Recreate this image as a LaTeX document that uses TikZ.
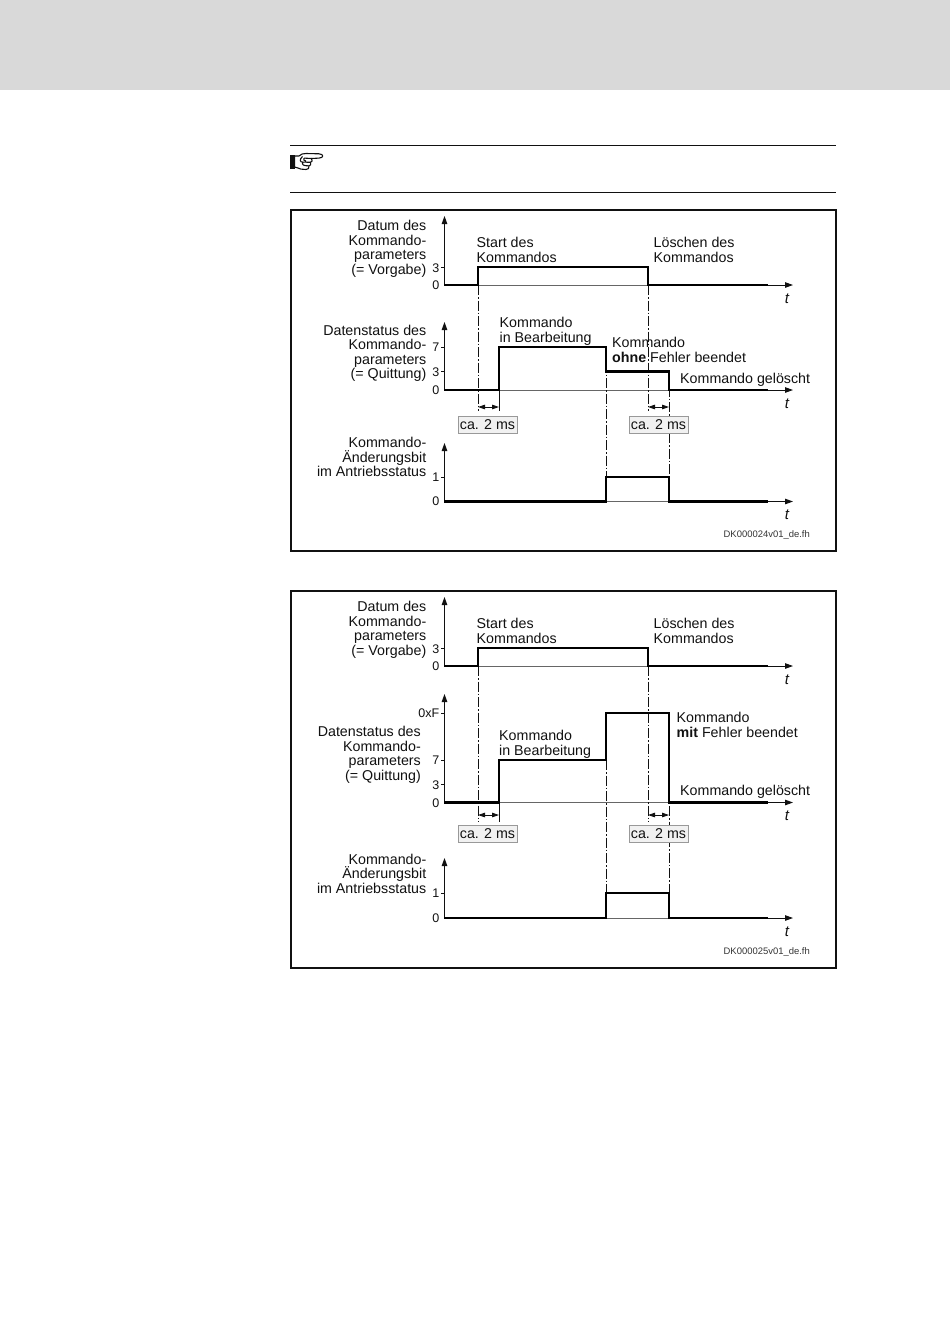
\documentclass[tikz,border=0pt]{standalone}
\usepackage{fontspec}
\setmainfont{Liberation Sans}
\usetikzlibrary{arrows.meta}
\definecolor{band}{HTML}{D9D9D9}
\definecolor{ink}{HTML}{111111}
\definecolor{boxfill}{HTML}{F1F1F1}
\definecolor{boxline}{HTML}{999999}
\tikzset{
  axisline/.style={line width=0.9pt,draw=ink,-{Triangle[length=8pt,width=5.5pt]}},
  baseline/.style={line width=0.9pt,draw=black!60},
  tickline/.style={line width=0.8pt,draw=ink},
  signal/.style={line width=2.7pt,draw=black,miter limit=4},
  guide/.style={line width=0.8pt,draw=ink,dash pattern=on 10pt off 2pt on 1.5pt off 2pt},
  dimline/.style={line width=0.8pt,draw=ink,{Triangle[length=7pt,width=4.5pt]}-{Triangle[length=7pt,width=4.5pt]}},
  extline/.style={line width=0.8pt,draw=ink},
  frameline/.style={line width=2pt,draw=ink},
  ruleline/.style={line width=1pt,draw=ink},
  lab/.style={inner sep=0pt,text=ink,font=\fontsize{14.25}{14.6}\selectfont,align=left},
  rlab/.style={inner sep=0pt,text=ink,font=\fontsize{14.25}{14.6}\selectfont,align=right},
  tick/.style={inner sep=0pt,text=ink,font=\fontsize{12.5}{13}\selectfont},
  tlab/.style={inner sep=0pt,text=ink,font=\fontsize{15}{15}\selectfont\itshape},
  msbox/.style={draw=boxline,fill=boxfill,line width=0.8pt,text=ink,inner sep=0pt,minimum width=59pt,minimum height=17pt,font=\fontsize{14.25}{14}\selectfont},
  tag/.style={inner sep=0pt,text=ink!85,font=\fontsize{9.45}{10}\selectfont},
}
\begin{document}
\begin{tikzpicture}[x=1pt,y=-1pt]
\useasboundingbox (0,0) rectangle (950,1344);
\fill[white] (0,0) rectangle (950,1344);
\fill[band] (0,0) rectangle (950,90);
% rules
\draw[ruleline] (290,145.5) -- (836,145.5);
\draw[ruleline] (290,192) -- (836,192);
% pointing hand
\begin{scope}[shift={(290,153.5)}]
\fill[ink] (0,1) -- (4.5,1) -- (4.5,15) -- (0,15) -- cycle;
\draw[line width=1.1pt,draw=ink,fill=white,line join=round]
  (4.5,2.5) -- (9,2.5) .. controls (11,0.5) and (13,0) .. (16,0)
  -- (29,0.3) .. controls (34,0.6) and (34,4.4) .. (29,4.6) -- (21.5,5)
  .. controls (23,7) and (22,8.6) .. (20.5,8.8)
  .. controls (21.5,10.6) and (20.5,12.2) .. (19,12.4)
  .. controls (19.5,14.6) and (18,16.2) .. (16,16)
  -- (11,15.6) .. controls (9,15) and (7,14) .. (4.5,13.5) -- cycle;
\draw[line width=1.1pt,draw=ink] (21.5,5) -- (14,4.6) (12.5,3) .. controls (9,6) and (10,9) .. (13,8.6)
  -- (20.5,8.8) (13,8.6) .. controls (11.5,11) and (13,12.4) .. (19,12.4)
  (14,4.6) .. controls (13,6) and (14,7.5) .. (16,7.5);
\end{scope}

% ===== panel 1 =====
\draw[frameline] (291,210) rectangle (836,551);
\node[rlab,anchor=north east] (p1l1) at (426.5,220) {Datum des\\Kommando-\\parameters\\(= Vorgabe)};
\node[rlab,anchor=north east] (p1l2) at (426.5,324.5) {Datenstatus des\\Kommando-\\parameters\\(= Quittung)};
\node[rlab,anchor=north east] (p1l3) at (426.5,437) {Kommando-\\Änderungsbit\\im Antriebsstatus};
\node[lab,anchor=north west] (p1a) at (476.5,237) {Start des\\Kommandos};
\node[lab,anchor=north west] (p1b) at (653.5,237) {Löschen des\\Kommandos};
\node[lab,anchor=north west] (p1c) at (499.5,317) {Kommando\\in Bearbeitung};
\node[lab,anchor=north west] (p1d) at (612,337) {Kommando\\\textbf{ohne} Fehler beendet};
\node[lab,anchor=north west] (p1e) at (680,373) {Kommando gelöscht};
% axes
\draw[axisline] (444.5,285) -- (444.5,216);
\draw[axisline] (444.5,390) -- (444.5,322);
\draw[axisline] (444.5,501.5) -- (444.5,443);
\draw[baseline] (444,285) -- (768,285);
\draw[baseline] (444,390) -- (768,390);
\draw[baseline] (444,501.5) -- (768,501.5);
\draw[axisline] (768,285) -- (793,285);
\draw[axisline] (768,390) -- (793,390);
\draw[axisline] (768,501.5) -- (793,501.5);
% ticks
\draw[tickline] (441,267) -- (445,267) (441,347) -- (445,347) (441,371.5) -- (445,371.5) (441,477) -- (445,477);
\node[tick,anchor=east] (p1t3) at (439.5,268.5) {3};
\node[tick,anchor=east] (p1t0) at (439.5,285.5) {0};
\node[tick,anchor=east] (p1u7) at (439.5,347) {7};
\node[tick,anchor=east] (p1u3) at (439.5,372) {3};
\node[tick,anchor=east] (p1u0) at (439.5,390) {0};
\node[tick,anchor=east] (p1v1) at (439.5,477.5) {1};
\node[tick,anchor=east] (p1v0) at (439.5,501.5) {0};
\node[tlab] (p1x1) at (787,298.5) {t};
\node[tlab] (p1x2) at (787,403.5) {t};
\node[tlab] (p1x3) at (787,515) {t};
% guides
\draw[guide] (478,285) -- (478,411);
\draw[guide] (606,347) -- (606,501);
\draw[guide] (648,285) -- (648,411);
\draw[guide] (669,371) -- (669,501);
\draw[extline] (499,390) -- (499,411);
% signals
\draw[signal] (444,285) -- (478,285) -- (478,267) -- (648,267) -- (648,285) -- (768,285);
\draw[signal] (444,390) -- (499,390) -- (499,347) -- (606,347) -- (606,371.5) -- (669,371.5) -- (669,390) -- (768,390);
\draw[signal] (444,501.5) -- (606,501.5) -- (606,477) -- (669,477) -- (669,501.5) -- (768,501.5);
% dimensions
\draw[dimline] (478,407) -- (499,407);
\draw[dimline] (648,407) -- (669,407);
\node[msbox] (p1m1) at (487.5,425) {ca. 2 ms};
\node[msbox] (p1m2) at (658.5,425) {ca. 2 ms};
\node[tag,anchor=east] (p1tag) at (810,535) {DK000024v01\_de.fh};

% ===== panel 2 =====
\draw[frameline] (291,591) rectangle (836,968);
\node[rlab,anchor=north east] (p2l1) at (426.5,601) {Datum des\\Kommando-\\parameters\\(= Vorgabe)};
\node[rlab,anchor=north east] (p2l2) at (421,726) {Datenstatus des\\Kommando-\\parameters\\(= Quittung)};
\node[rlab,anchor=north east] (p2l3) at (426.5,853.5) {Kommando-\\Änderungsbit\\im Antriebsstatus};
\node[lab,anchor=north west] (p2a) at (476.5,618) {Start des\\Kommandos};
\node[lab,anchor=north west] (p2b) at (653.5,618) {Löschen des\\Kommandos};
\node[lab,anchor=north west] (p2c) at (499,730) {Kommando\\in Bearbeitung};
\node[lab,anchor=north west] (p2d) at (676.5,712) {Kommando\\\textbf{mit} Fehler beendet};
\node[lab,anchor=north west] (p2e) at (680,785) {Kommando gelöscht};
% axes
\draw[axisline] (444.5,666) -- (444.5,597);
\draw[axisline] (444.5,802.5) -- (444.5,694);
\draw[axisline] (444.5,918) -- (444.5,858);
\draw[baseline] (444,666) -- (768,666);
\draw[baseline] (444,802.5) -- (768,802.5);
\draw[baseline] (444,918) -- (768,918);
\draw[axisline] (768,666) -- (793,666);
\draw[axisline] (768,802.5) -- (793,802.5);
\draw[axisline] (768,918) -- (793,918);
% ticks
\draw[tickline] (441,648) -- (445,648) (441,713) -- (445,713) (441,760) -- (445,760) (441,784.5) -- (445,784.5) (441,893) -- (445,893);
\node[tick,anchor=east] (p2t3) at (439.5,649.5) {3};
\node[tick,anchor=east] (p2t0) at (439.5,666.5) {0};
\node[tick,anchor=east] (p2uf) at (439.5,713) {0xF};
\node[tick,anchor=east] (p2u7) at (439.5,760) {7};
\node[tick,anchor=east] (p2u3) at (439.5,785) {3};
\node[tick,anchor=east] (p2u0) at (439.5,803) {0};
\node[tick,anchor=east] (p2v1) at (439.5,893.5) {1};
\node[tick,anchor=east] (p2v0) at (439.5,918.5) {0};
\node[tlab] (p2x1) at (787,679.5) {t};
\node[tlab] (p2x2) at (787,816) {t};
\node[tlab] (p2x3) at (787,932) {t};
% guides
\draw[guide] (478,666) -- (478,822);
\draw[guide] (606,760) -- (606,918);
\draw[guide] (648,666) -- (648,822);
\draw[guide] (669,713) -- (669,918);
\draw[extline] (499,802.5) -- (499,822);
% signals
\draw[signal] (444,666) -- (478,666) -- (478,648) -- (648,648) -- (648,666) -- (768,666);
\draw[signal] (444,802.5) -- (499,802.5) -- (499,760) -- (606,760) -- (606,713) -- (669,713) -- (669,802.5) -- (768,802.5);
\draw[signal] (444,918) -- (606,918) -- (606,893) -- (669,893) -- (669,918) -- (768,918);
% dimensions
\draw[dimline] (478,815) -- (499,815);
\draw[dimline] (648,815) -- (669,815);
\node[msbox] (p2m1) at (487.5,834) {ca. 2 ms};
\node[msbox] (p2m2) at (658.5,834) {ca. 2 ms};
\node[tag,anchor=east] (p2tag) at (810,952) {DK000025v01\_de.fh};
\end{tikzpicture}
\end{document}
